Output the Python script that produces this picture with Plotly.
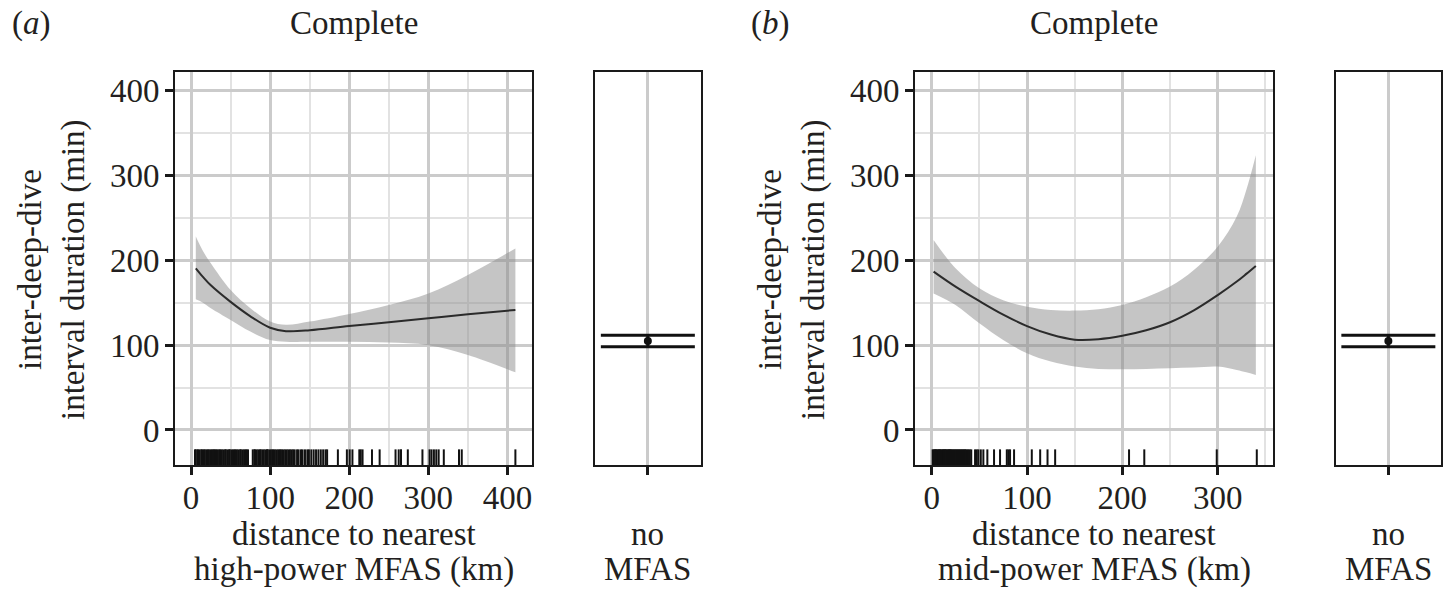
import plotly.graph_objects as go

# ---------------- data ----------------
# (a) high-power MFAS: smooth fit with 95% band
dist_a = [6, 15, 25, 50, 75, 100, 120, 150, 200, 250, 300, 350, 410]
fit_a = [190.6, 180.5, 170.5, 151, 134, 120.5, 116.5, 117.5, 122.6, 127, 131.7, 136.4, 141.5]
upper_a = [228, 211, 196.5, 165, 143.5, 127.8, 124, 127.8, 136.8, 147.4, 161, 182.8, 214]
lower_a = [154, 150, 143.5, 129.7, 116, 106, 104, 104, 104, 103, 100, 88.5, 68]

# (b) mid-power MFAS: smooth fit with 95% band
dist_b = [2, 25, 50, 75, 100, 125, 150, 175, 200, 225, 250, 275, 300, 320, 330, 340]
fit_b = [186.7, 169, 152, 136, 122.5, 112.5, 106.5, 107, 111, 117.5, 127, 141, 159, 175, 184, 193.4]
upper_b = [224, 190.6, 167, 153, 145.4, 141.5, 140.7, 142.3, 147.4, 156.4, 169, 188.7, 216, 251.6, 283, 324]
lower_b = [161, 147.4, 125.8, 106, 90.4, 80.6, 74.7, 72, 71.5, 72, 72.7, 73.5, 74.7, 70.8, 68, 64.9]

# observed distances (rug)
rug_a = [5, 6, 8, 9, 11, 13, 14, 16, 17, 19, 21, 22, 24, 26, 27, 29, 31, 32, 34, 36,
         37, 39, 41, 43, 44, 46, 48, 49, 51, 53, 55, 56, 58, 60, 62, 63, 65, 67, 69, 70,
         72, 78, 80, 81, 83, 85, 87, 88, 90, 92, 94, 96, 97, 99, 101, 103, 104, 106, 108,
         110, 112, 113, 115, 117, 119, 121, 123, 125, 127, 129, 131, 134, 136, 139, 141,
         144, 147, 149, 152, 155, 158, 161, 164, 167, 170, 172,
         185.6, 197, 200.5, 204, 212.7, 214.5, 216.8, 228.7, 238.4, 258.5, 262.5, 265.4,
         274, 292.5, 301.5, 304, 307, 310, 313, 319.5, 338.7, 342.2, 410]
rug_b = [1, 2, 3, 3.5, 4.5, 5, 6, 7, 7.5, 8.5, 9, 10, 11, 12, 12.5, 13.5, 14, 15, 16, 17,
         18, 18.5, 19.5, 20, 21, 22, 23, 24, 25, 26, 27, 28, 29, 30, 31, 32, 33, 34, 35,
         36, 37.5, 38.5, 40, 41.5,
         45.5, 47.3, 49, 51.5, 54.2, 58.4, 65.4, 71.7, 78.8, 80.5, 82.2, 86.4, 105, 113.8,
         121.5, 129.5, 207, 223, 299, 341]

# "no MFAS" level: estimate and interval
nomfas_est = [105]
nomfas_low = [98.2]
nomfas_high = [111.7]

y_ticks = [0, 100, 200, 300, 400]

# ---------------- layout helpers ----------------
W, H = 1452, 603
FONT = "Liberation Serif"
INK = "#231f20"
FS = 33
GRID = "#cbcbcb"
MINOR = "#e2e2e2"


def px_x(v):
    return v / W


def px_y(v):
    return 1 - v / H


y_dom = [px_y(465), px_y(72)]
y_range = [-41.3, 422]

fig = go.Figure()


def add_main(xa, ya, dist, fit, lo, hi, rug):
    fig.add_trace(go.Scatter(x=dist, y=lo, mode="lines", line=dict(width=0, shape="spline"),
                             xaxis=xa, yaxis=ya, hoverinfo="skip", showlegend=False))
    fig.add_trace(go.Scatter(x=dist, y=hi, mode="lines", line=dict(width=0, shape="spline"),
                             fill="tonexty", fillcolor="rgba(140,140,140,0.5)",
                             xaxis=xa, yaxis=ya, hoverinfo="skip", showlegend=False))
    fig.add_trace(go.Scatter(x=dist, y=fit, mode="lines",
                             line=dict(color="#2b2b2b", width=2, shape="spline"),
                             xaxis=xa, yaxis=ya, showlegend=False))
    fig.add_trace(go.Scatter(x=rug, y=[-33.6] * len(rug), mode="markers",
                             marker=dict(symbol="line-ns", size=13,
                                         line=dict(color="#111111", width=2)),
                             xaxis=xa, yaxis=ya, showlegend=False))


def add_level(xa, ya):
    fig.add_trace(go.Scatter(
        x=[0], y=nomfas_est, mode="markers",
        marker=dict(color="#111111", size=8),
        error_y=dict(type="data", symmetric=False,
                     array=[nomfas_high[0] - nomfas_est[0]],
                     arrayminus=[nomfas_est[0] - nomfas_low[0]],
                     color="#111111", thickness=3, width=47),
        xaxis=xa, yaxis=ya, showlegend=False))


add_main("x", "y", dist_a, fit_a, lower_a, upper_a, rug_a)
add_level("x2", "y2")
add_main("x3", "y3", dist_b, fit_b, lower_b, upper_b, rug_b)
add_level("x4", "y4")

frame = dict(showline=True, mirror=True, linecolor="#1a1a1a", linewidth=2, zeroline=False)
tickfont = dict(family=FONT, size=FS, color=INK)


def main_x(dom, rng, anchor):
    return dict(domain=dom, range=rng, anchor=anchor, tickmode="array",
                tickvals=[0, 100, 200, 300, 400], ticks="outside", ticklen=8, tickwidth=2.5,
                tickcolor="#1a1a1a", tickfont=tickfont, ticklabelstandoff=-6,
                showgrid=True, gridcolor=GRID,
                gridwidth=2.5, minor=dict(dtick=50, tick0=0, showgrid=True,
                                          gridcolor=MINOR, gridwidth=2),
                **frame)


def main_y(anchor):
    return dict(domain=y_dom, range=y_range, anchor=anchor, tickmode="array",
                tickvals=y_ticks, ticks="outside", ticklen=8, tickwidth=2.5,
                tickcolor="#1a1a1a", tickfont=tickfont, ticklabelstandoff=-1,
                showgrid=True, gridcolor=GRID, gridwidth=2.5,
                minor=dict(dtick=50, tick0=0, showgrid=True, gridcolor=MINOR, gridwidth=2),
                **frame)


def level_x(dom, anchor):
    return dict(domain=dom, range=[-0.5, 0.5], anchor=anchor, tickmode="array",
                tickvals=[0], ticktext=[""], ticks="outside", ticklen=8, tickwidth=2.5,
                tickcolor="#1a1a1a", showgrid=True, gridcolor=GRID, gridwidth=2.5, **frame)


def level_y(anchor):
    return dict(domain=y_dom, range=y_range, anchor=anchor, showticklabels=False,
                ticks="", showgrid=False, **frame)


fig.update_layout(
    width=W, height=H,
    margin=dict(l=0, r=0, t=0, b=0),
    paper_bgcolor="white", plot_bgcolor="white",
    xaxis=main_x([px_x(175), px_x(532)], [-20.3, 431], "y"),
    yaxis=main_y("x"),
    xaxis2=level_x([px_x(595), px_x(700.7)], "y2"),
    yaxis2=level_y("x2"),
    xaxis3=main_x([px_x(915), px_x(1273)], [-17.5, 358], "y3"),
    yaxis3=main_y("x3"),
    xaxis4=level_x([px_x(1336), px_x(1440.7)], "y4"),
    yaxis4=level_y("x4"),
)

annots = []


def text(x, y, s, angle=0):
    annots.append(dict(x=px_x(x), y=px_y(y), xref="paper", yref="paper", text=s,
                       showarrow=False, xanchor="center", yanchor="middle",
                       textangle=angle, font=dict(family=FONT, size=FS, color=INK)))


for off, letter, kind in [(0, "a", "high-power"), (740, "b", "mid-power")]:
    main_cx = (175 + 532) / 2 if letter == "a" else (915 + 1273) / 2
    level_cx = 647.8 if letter == "a" else 1388.3
    text(31 + off, 23, f"(<i>{letter}</i>)")
    text(main_cx, 23, "Complete")
    text(30 + off, 270, "inter-deep-dive", -90)
    text(73 + off, 270, "interval duration (min)", -90)
    text(main_cx, 534, "distance to nearest")
    text(main_cx, 569, f"{kind} MFAS (km)")
    text(level_cx, 534, "no")
    text(level_cx, 569, "MFAS")

fig.update_layout(annotations=annots)

fig.write_html("out.html")
